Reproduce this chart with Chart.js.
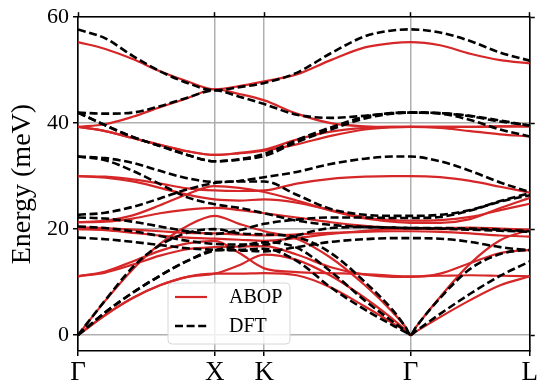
<!DOCTYPE html>
<html>
<head>
<meta charset="utf-8">
<script src="https://cdn.jsdelivr.net/npm/chart.js@4/dist/chart.umd.min.js"></script>
<style>
  html, body { margin: 0; padding: 0; background: #ffffff; }
  #wrap { width: 539px; height: 386px; }
</style>
</head>
<body>
<div id="wrap"><canvas id="c" width="539" height="386"></canvas></div>
<script>
// High-symmetry points along the path (path-length units)
const kLabels = ['Γ', 'X', 'K', 'Γ', 'L'];
const kPos = [0, 1.0, 1.363, 2.433, 3.306];
const yTicks = [0, 20, 40, 60];

// Sampling positions along the path (shared by every branch)
const qPath = [0, 0.2, 0.4, 0.6, 0.8, 1.0, 1.18, 1.363, 1.6, 1.85, 2.1, 2.3, 2.4, 2.433, 2.47, 2.65, 2.87, 3.09, 3.306];
const n = null;

// ABOP branches (meV)
const abop1  = [0, 3.8, 7.0, 9.4, 11.0, 11.6, 11.6, 11.7, 11.3, 9.0, 5.4, 2.3, 0.7, 0, 0.6, 3.4, 6.6, 9.4, 11.1];
const abop2  = [0, 3.8, 7.0, 9.4, 11.0, 11.6, 13.2, 15.2, 14.2, 11.2, 7.0, 3.1, 0.9, 0, n, n, n, n, n];
const abop3  = [0, 6.5, 12.4, 17.2, 20.6, 22.5, 21.0, 19.6, 18.2, 14.6, 9.4, 4.4, 1.4, 0, 1.4, 7.2, 13.5, 17.9, 19.9];
const abop4  = [11.1, 11.8, 13.3, 15.0, 16.2, 16.6, 16.7, 16.8, 15.2, 12.8, 11.4, 11.0, n, 11.0, n, 11.6, 13.6, 15.5, 16.1];
const abop5  = [11.1, 12.0, 13.9, 15.9, 17.3, 17.8, 15.5, 12.6, 11.9, 11.7, 11.5, 11.2, n, 11.1, n, 11.2, 11.3, 11.2, 11.1];
const abop6  = [30.0, 29.9, 29.4, 28.6, 27.7, 27.3, 27.2, 27.3, 28.6, 29.5, 29.9, 30.0, n, 30.0, n, 29.8, 29.1, 28.0, 26.9];
const abop7  = [30.0, 29.7, 29.0, 27.8, 26.5, 25.6, 25.4, 25.6, 25.0, 23.6, 22.2, 21.7, n, 21.6, n, 21.7, 22.3, 23.6, 24.8];
const abop8  = [21.3, 21.6, 22.6, 24.5, 26.6, 28.1, 27.8, 27.0, 25.4, 23.5, 22.0, 21.4, n, 21.2, n, 21.2, 21.9, 24.0, 25.9];
const abop9  = [21.3, 21.4, 22.0, 23.0, 23.7, 24.0, 23.6, 23.0, 22.2, 21.3, 20.6, 20.2, n, 20.1, n, 20.0, 20.0, 19.9, 19.8];
const abop10 = [20.3, 20.2, 19.9, 19.6, 19.3, 19.2, 19.0, 18.8, 19.0, 19.3, 19.5, 19.6, n, 19.6, n, 19.5, 19.2, 18.8, 18.6];
const abop11 = [20.0, 19.8, 19.3, 18.8, 18.4, 18.2, 18.0, 17.8, 18.3, 19.1, 19.7, 20.0, n, 20.1, n, 20.2, 20.3, 20.1, 19.9];
const abop12 = [39.3, 38.5, 37.2, 35.9, 34.7, 34.0, 34.3, 34.8, 36.0, 37.6, 38.8, 39.2, n, 39.3, n, 39.3, 39.3, 39.4, 39.4];
const abop13 = [39.3, 38.5, 37.2, 35.9, 34.7, 34.0, 34.4, 35.0, 36.9, 38.4, 39.1, 39.3, n, 39.3, n, 39.1, 38.5, 37.9, 37.5];
const abop14 = [39.3, 39.8, 41.2, 43.0, 44.7, 46.4, 45.5, 44.3, 41.8, 40.0, 39.4, 39.3, n, 39.3, n, 39.3, 39.3, 39.4, 39.4];
const abop15 = [55.3, 54.0, 52.1, 49.8, 47.9, 46.4, 47.0, 47.9, 49.2, 51.9, 54.3, 55.1, n, 55.3, n, 54.7, 53.1, 51.9, 51.3];

// DFT branches (meV)
const dft1  = [0, 4.3, 8.0, 11.2, 14.0, 16.0, 16.1, 16.3, 14.0, 9.0, 4.8, 1.9, 0.5, 0, 0.7, 4.0, 7.8, 11.2, 13.9];
const dft2  = [0, 4.3, 8.0, 11.2, 14.0, 16.0, 16.8, 17.5, 16.5, 12.0, 6.5, 2.6, 0.7, 0, n, n, n, n, n];
const dft3  = [0, 6.6, 12.8, 17.0, 19.3, 20.0, 19.2, 19.0, 18.5, 15.5, 10.0, 4.8, 1.4, 0, 1.4, 7.0, 12.5, 15.3, 16.2];
const dft4  = [18.4, 18.1, 17.6, 17.0, 16.4, 16.1, 16.0, 15.8, 16.6, 17.6, 18.1, 18.3, n, 18.3, n, 18.2, 17.6, 16.6, 16.0];
const dft5  = [20.5, 20.2, 19.6, 18.7, 17.8, 17.2, 17.1, 17.1, 18.8, 20.2, 20.4, 20.3, n, 20.2, n, 20.2, 20.1, 19.9, 19.6];
const dft6  = [22.2, 22.0, 21.4, 20.5, 19.6, 19.1, 19.8, 21.0, 21.8, 22.2, 22.2, 22.1, n, 22.1, n, 22.3, 23.5, 25.2, 26.4];
const dft7  = [22.7, 23.1, 24.2, 25.8, 27.5, 28.7, 29.1, 29.8, 30.8, 32.3, 33.3, 33.7, n, 33.7, n, 32.8, 31.0, 28.8, 27.0];
const dft8  = [33.7, 33.4, 32.5, 31.0, 29.6, 28.9, 29.0, 29.0, 26.5, 23.8, 22.7, 22.5, n, 22.5, n, 22.7, 23.6, 25.3, 26.8];
const dft9  = [33.7, 33.0, 31.0, 28.5, 26.0, 24.7, 24.0, 23.0, 21.6, 20.8, 20.4, 20.3, n, 20.2, n, 20.1, 19.9, 19.7, 19.5];
const dft10 = [42.0, 39.6, 37.4, 35.7, 34.0, 32.8, 33.1, 33.8, 36.4, 38.8, 40.9, 41.8, n, 42.0, n, 41.8, 40.6, 38.8, 37.5];
const dft11 = [42.0, 39.6, 37.4, 35.7, 34.0, 32.8, 33.2, 34.2, 36.8, 39.2, 41.2, 41.9, n, 42.0, n, 41.9, 41.4, 40.5, 39.5];
const dft12 = [42.0, 41.8, 42.0, 43.2, 44.8, 46.2, 45.0, 43.6, 41.6, 41.0, 41.4, 41.9, n, 42.0, n, 41.9, 41.3, 40.3, 39.6];
const dft13 = [57.7, 56.0, 52.7, 49.8, 47.6, 46.2, 46.8, 47.6, 49.5, 53.2, 56.4, 57.5, n, 57.7, n, 57.1, 55.5, 53.3, 51.8];

const abopBands = [abop1, abop2, abop3, abop4, abop5, abop6, abop7, abop8, abop9, abop10, abop11, abop12, abop13, abop14, abop15];
const dftBands = [dft1, dft2, dft3, dft4, dft5, dft6, dft7, dft8, dft9, dft10, dft11, dft12, dft13];

const RED = '#d62728';
const FONT = "'Liberation Serif', 'Times New Roman', serif";
const RED_W = 2.2;
const BLK_W = 2.6;
const DASH = [8, 3.6];

function toPoints(band) {
  return qPath.map((q, i) => ({ x: q, y: band[i] }));
}

const datasets = [];
abopBands.forEach((b, i) => datasets.push({
  label: i === 0 ? 'ABOP' : '',
  data: toPoints(b),
  borderColor: RED,
  borderWidth: RED_W,
  pointRadius: 0,
  fill: false,
  spanGaps: true,
  cubicInterpolationMode: 'monotone',
  order: 2
}));
dftBands.forEach((b, i) => datasets.push({
  label: i === 0 ? 'DFT' : '',
  data: toPoints(b),
  borderColor: '#000000',
  borderWidth: BLK_W,
  borderDash: DASH,
  pointRadius: 0,
  fill: false,
  spanGaps: true,
  cubicInterpolationMode: 'monotone',
  order: 1
}));

const legendPlugin = {
  id: 'insideLegend',
  afterDraw(chart) {
    const ctx = chart.ctx;
    ctx.save();
    const x = 168, y = 283, w = 122, h = 61, r = 4;
    ctx.beginPath();
    ctx.moveTo(x + r, y);
    ctx.arcTo(x + w, y, x + w, y + h, r);
    ctx.arcTo(x + w, y + h, x, y + h, r);
    ctx.arcTo(x, y + h, x, y, r);
    ctx.arcTo(x, y, x + w, y, r);
    ctx.closePath();
    ctx.fillStyle = 'rgba(255,255,255,0.8)';
    ctx.fill();
    ctx.strokeStyle = '#d6d6d6';
    ctx.lineWidth = 1;
    ctx.stroke();

    const items = [
      { text: 'ABOP', color: RED, dash: [], width: RED_W, yy: 297 },
      { text: 'DFT', color: '#000', dash: DASH, width: BLK_W, yy: 326 }
    ];
    items.forEach(it => {
      ctx.beginPath();
      ctx.setLineDash(it.dash);
      ctx.strokeStyle = it.color;
      ctx.lineWidth = it.width;
      ctx.moveTo(175, it.yy);
      ctx.lineTo(207, it.yy);
      ctx.stroke();
      ctx.setLineDash([]);
      ctx.fillStyle = '#000';
      ctx.font = '20px ' + FONT;
      ctx.textBaseline = 'middle';
      ctx.textAlign = 'left';
      ctx.fillText(it.text, 229, it.yy + 1);
    });
    ctx.restore();
  }
};

new Chart(document.getElementById('c'), {
  type: 'line',
  data: { datasets },
  options: {
    responsive: false,
    animation: false,
    devicePixelRatio: 1,
    layout: { padding: 0 },
    plugins: { legend: { display: false }, tooltip: { enabled: false } },
    scales: {
      x: {
        type: 'linear', position: 'bottom', min: 0, max: kPos[kPos.length - 1],
        afterBuildTicks: s => { s.ticks = kPos.map(v => ({ value: v })); },
        afterFit: s => { s.height = 35; },
        ticks: {
          autoSkip: false, maxRotation: 0, padding: 1, color: '#000',
          font: { family: FONT, size: 27 },
          callback: (v) => kLabels[kPos.indexOf(v)]
        },
        grid: { color: '#b0b0b0', lineWidth: 1.5, tickColor: '#000', tickLength: 5, tickWidth: 1.5 },
        border: { color: '#000', width: 1.6 }
      },
      x2: {
        type: 'linear', position: 'top', min: 0, max: kPos[kPos.length - 1],
        afterBuildTicks: s => { s.ticks = kPos.map(v => ({ value: v })); },
        afterFit: s => { s.height = 15; },
        ticks: { display: false },
        grid: { drawOnChartArea: false, tickColor: '#000', tickLength: 5, tickWidth: 1.5 },
        border: { color: '#000', width: 1.6 }
      },
      y: {
        type: 'linear', position: 'left', min: -3, max: 60,
        afterBuildTicks: s => { s.ticks = yTicks.map(v => ({ value: v })); },
        afterFit: s => { s.width = 78; },
        ticks: { color: '#000', font: { family: FONT, size: 22 }, padding: 4 },
        grid: { color: '#b0b0b0', lineWidth: 1.5, tickColor: '#000', tickLength: 5, tickWidth: 1.5 },
        border: { color: '#000', width: 1.6 },
        title: { display: true, text: 'Energy (meV)', color: '#000', font: { family: FONT, size: 28 }, padding: { top: 6, bottom: 0 } }
      },
      y2: {
        type: 'linear', position: 'right', min: -3, max: 60,
        afterBuildTicks: s => { s.ticks = yTicks.map(v => ({ value: v })); },
        afterFit: s => { s.width = 6; },
        ticks: { display: false },
        grid: { drawOnChartArea: false, tickColor: '#000', tickLength: 5, tickWidth: 1.5 },
        border: { color: '#000', width: 1.6 }
      }
    }
  },
  plugins: [legendPlugin]
});
</script>
</body>
</html>
